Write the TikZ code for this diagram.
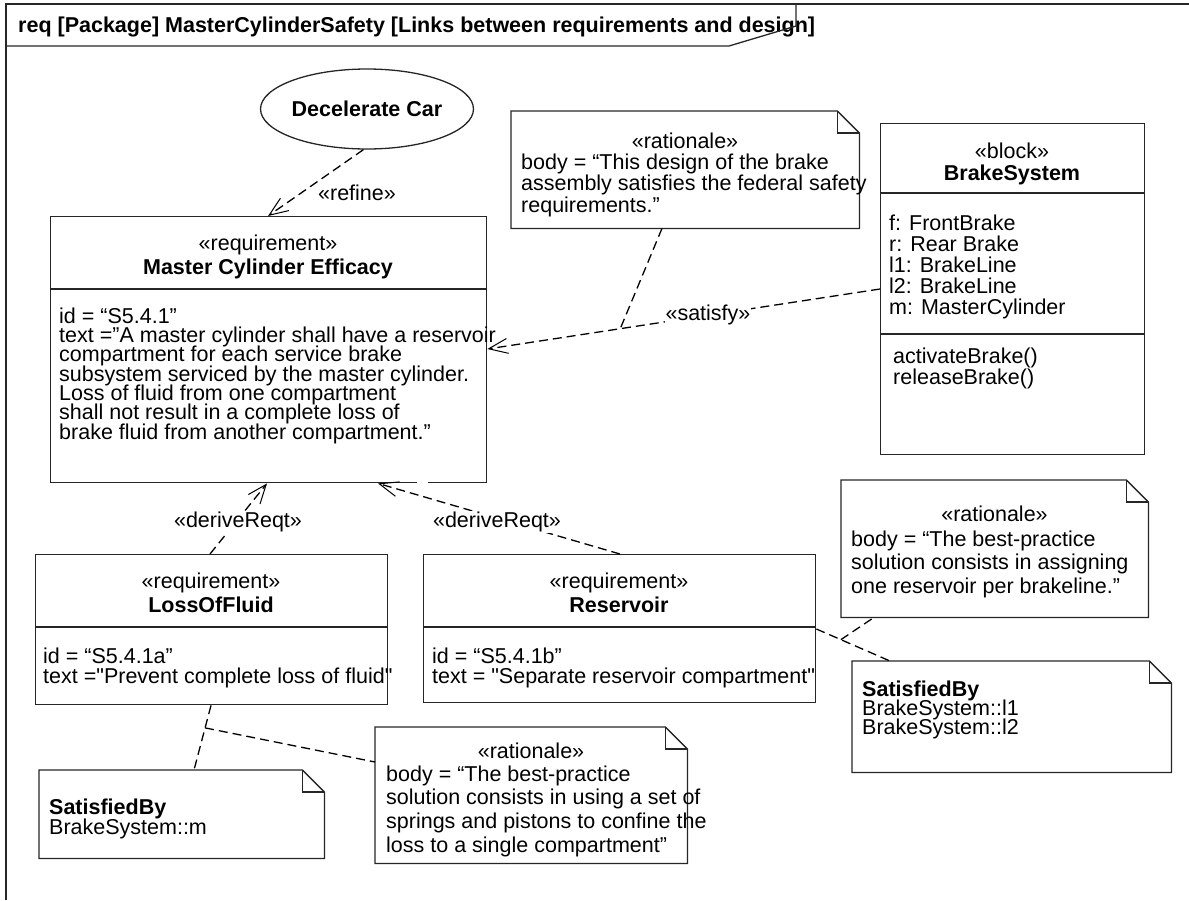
\documentclass[tikz,border=0pt]{standalone}
\usepackage{fontspec}
\setmainfont{Liberation Sans}
\usetikzlibrary{arrows.meta,shapes.geometric,calc}
\newcommand\dogear[1]{%
  \draw[ln] (#1.north west) -- ([xshift=-22pt]#1.north east) -- ([yshift=-22pt]#1.north east) -- (#1.south east) -- (#1.south west) -- cycle;
  \draw[ln] ([xshift=-22pt]#1.north east) |- ([yshift=-22pt]#1.north east);}
\newcommand\sq{\XeTeXglyph\XeTeXcharglyph34\relax}
\begin{document}
\begin{tikzpicture}[x=1pt,y=-1pt,
  ln/.style={line width=1.3pt, draw=black!85},
  boxs/.style={draw=black!85, line width=1.4pt, inner sep=0, anchor=north west},
  notes/.style={inner sep=0, anchor=north west},
  txt/.style={inner sep=0, anchor=base west, font=\fontsize{21.5}{22}\selectfont},
  btx/.style={inner sep=0, anchor=base west, font=\fontsize{21.5}{22}\selectfont\bfseries},
  ctxt/.style={inner sep=0, anchor=base, font=\fontsize{21.5}{22}\selectfont},
  btxt/.style={inner sep=0, anchor=base, font=\fontsize{21.5}{22}\selectfont\bfseries},
  dline/.style={line width=1.3pt, draw=black, dash pattern=on 9pt off 5pt},
  arr/.style={-{Straight Barb[length=19pt,width=15pt,line width=1pt]}},
  lbl/.style={inner sep=1pt, font=\fontsize{21.5}{22}\selectfont},
  wlbl/.style={lbl, fill=white}
]
\useasboundingbox (0,0) rectangle (1189,900);
% frame
\draw[ln] (6,900) -- (6,4) -- (1189,4);
\node[btx] (title) at (18,32) {req [Package] MasterCylinderSafety [Links between requirements and design]};
\draw[ln] (6,46) -- (729,46) -- (796,26) -- (796,4);

% use case
\node[ellipse, draw=black!85, line width=1.3pt, minimum width=194pt, minimum height=80pt, inner sep=0,
      font=\fontsize{21.5}{22}\selectfont\bfseries] (dc) at (367,109) {Decelerate Car};

% Master Cylinder Efficacy
\node[boxs, minimum width=436pt, minimum height=266pt] (mce) at (50,216) {};
\draw[ln] ([yshift=-73pt]mce.north west) -- ([yshift=-73pt]mce.north east);
\node[ctxt] (mcest) at (268,250) {«requirement»};
\node[btxt] (mcenm) at (268,274) {Master Cylinder Efficacy};
\foreach \t [count=\i from 0] in {{id = “S5.4.1”},{text =”A master cylinder shall have a reservoir},{compartment for each service brake},{subsystem serviced by the master cylinder.},{Loss of fluid from one compartment},{shall not result in a complete loss of},{brake fluid from another compartment.”}}
  \node[txt] (mceb\i) at (59,323+19.35*\i) {\t};
\fill[white] (417,479) rectangle (428,486);

% BrakeSystem block
\node[boxs, minimum width=264pt, minimum height=331pt] (bs) at (880,123) {};
\draw[ln] ([yshift=-70pt]bs.north west) -- ([yshift=-70pt]bs.north east);
\draw[ln] ([yshift=-211pt]bs.north west) -- ([yshift=-211pt]bs.north east);
\node[ctxt] (bsst) at (1012,158) {«block»};
\node[btxt] (bsnm) at (1012,180) {BrakeSystem};
\foreach \t [count=\i from 0] in {{f: FrontBrake},{r: Rear Brake},{l1: BrakeLine},{l2: BrakeLine},{m: MasterCylinder}}
  \node[txt] (bsa\i) at (889,230+21*\i) {\t};
\node[txt] (bso0) at (893,363) {activateBrake()};
\node[txt] (bso1) at (893,384) {releaseBrake()};

% LossOfFluid
\node[boxs, minimum width=352pt, minimum height=150pt] (lof) at (35,554) {};
\draw[ln] ([yshift=-73pt]lof.north west) -- ([yshift=-73pt]lof.north east);
\node[ctxt] (lofst) at (211,588) {«requirement»};
\node[btxt] (lofnm) at (211,612) {LossOfFluid};
\node[txt] (lofb0) at (43,663) {id = “S5.4.1a”};
\node[txt] (lofb1) at (43,683) {text =\sq Prevent complete loss of fluid\sq};

% Reservoir
\node[boxs, minimum width=392pt, minimum height=148pt] (res) at (423,554) {};
\draw[ln] ([yshift=-73pt]res.north west) -- ([yshift=-73pt]res.north east);
\node[ctxt] (resst) at (619,588) {«requirement»};
\node[btxt] (resnm) at (619,612) {Reservoir};
\node[txt] (resb0) at (432,663) {id = “S5.4.1b”};
\node[txt] (resb1) at (432,683) {text = \sq Separate reservoir compartment\sq};

% notes
\node[notes, minimum width=348pt, minimum height=117pt] (n1) at (511,111) {};
\dogear{n1}
\node[ctxt] (n1st) at (685,148) {«rationale»};
\foreach \t [count=\i from 0] in {{body = “This design of the brake},{assembly satisfies the federal safety},{requirements.”}}
  \node[txt] (n1b\i) at (521,169+21.5*\i) {\t};

\node[notes, minimum width=307pt, minimum height=137pt] (n2) at (841,480) {};
\dogear{n2}
\node[ctxt] (n2st) at (994.5,521) {«rationale»};
\foreach \t [count=\i from 0] in {{body = “The best-practice},{solution consists in assigning},{one reservoir per brakeline.”}}
  \node[txt] (n2b\i) at (851,546+23.5*\i) {\t};

\node[notes, minimum width=312pt, minimum height=136pt] (n3) at (375,727) {};
\dogear{n3}
\node[ctxt] (n3st) at (531,758) {«rationale»};
\foreach \t [count=\i from 0] in {{body = “The best-practice},{solution consists in using a set of},{springs and pistons to confine the},{loss to a single compartment”}}
  \node[txt] (n3b\i) at (386,781+23.7*\i) {\t};

\node[notes, minimum width=285pt, minimum height=88pt] (sm) at (39,770) {};
\dogear{sm}
\node[btx] (smh) at (49,814) {SatisfiedBy};
\node[txt] (smb) at (49,834) {BrakeSystem::m};

\node[notes, minimum width=319pt, minimum height=111pt] (sl) at (852,661) {};
\dogear{sl}
\node[btx] (slh) at (862,696) {SatisfiedBy};
\node[txt] (slb0) at (862,715) {BrakeSystem::l1};
\node[txt] (slb1) at (862,734) {BrakeSystem::l2};

% refine
\draw[dline, arr] (dc.265) -- ([xshift=218pt]mce.north west);
\node[lbl] (rf) at (357,193) {«refine»};

% satisfy
\coordinate (sa) at ([yshift=-166pt]bs.north west);
\coordinate (sb) at ([yshift=-133pt]mce.north east);
\draw[dline, arr] (sa) -- (sb);
\node[wlbl] (sf) at (708,315) {«satisfy»};
\coordinate (sj) at ($(sa)!0.6616!(sb)$);
\draw[dline] ([xshift=151pt]n1.south west) -- (sj);

% deriveReqt
\draw[dline, arr] ([xshift=175pt]lof.north west) -- ([xshift=217pt]mce.south west);
\node[wlbl] (dr1) at (238,522) {«deriveReqt»};
\draw[dline, arr] ([xshift=197pt]res.north west) -- ([xshift=328pt]mce.south west);
\node[wlbl] (dr2) at (497,522) {«deriveReqt»};

% satisfiedBy m + rationale 3
\coordinate (la) at ([xshift=176pt]lof.south west);
\coordinate (lb) at ([xshift=155pt]sm.north west);
\draw[dline] (la) -- (lb);
\coordinate (lj) at ($(la)!0.348!(lb)$);
\draw[dline] (lj) -- ([yshift=-35pt]n3.north west);

% satisfiedBy l1 l2 + rationale 2
\coordinate (ra) at ([yshift=-75pt]res.north east);
\coordinate (rb) at ([xshift=38pt]sl.north west);
\draw[dline] (ra) -- (rb);
\coordinate (rj) at ($(ra)!0.333!(rb)$);
\draw[dline] (rj) -- ([xshift=33pt]n2.south west);
\end{tikzpicture}
\end{document}
